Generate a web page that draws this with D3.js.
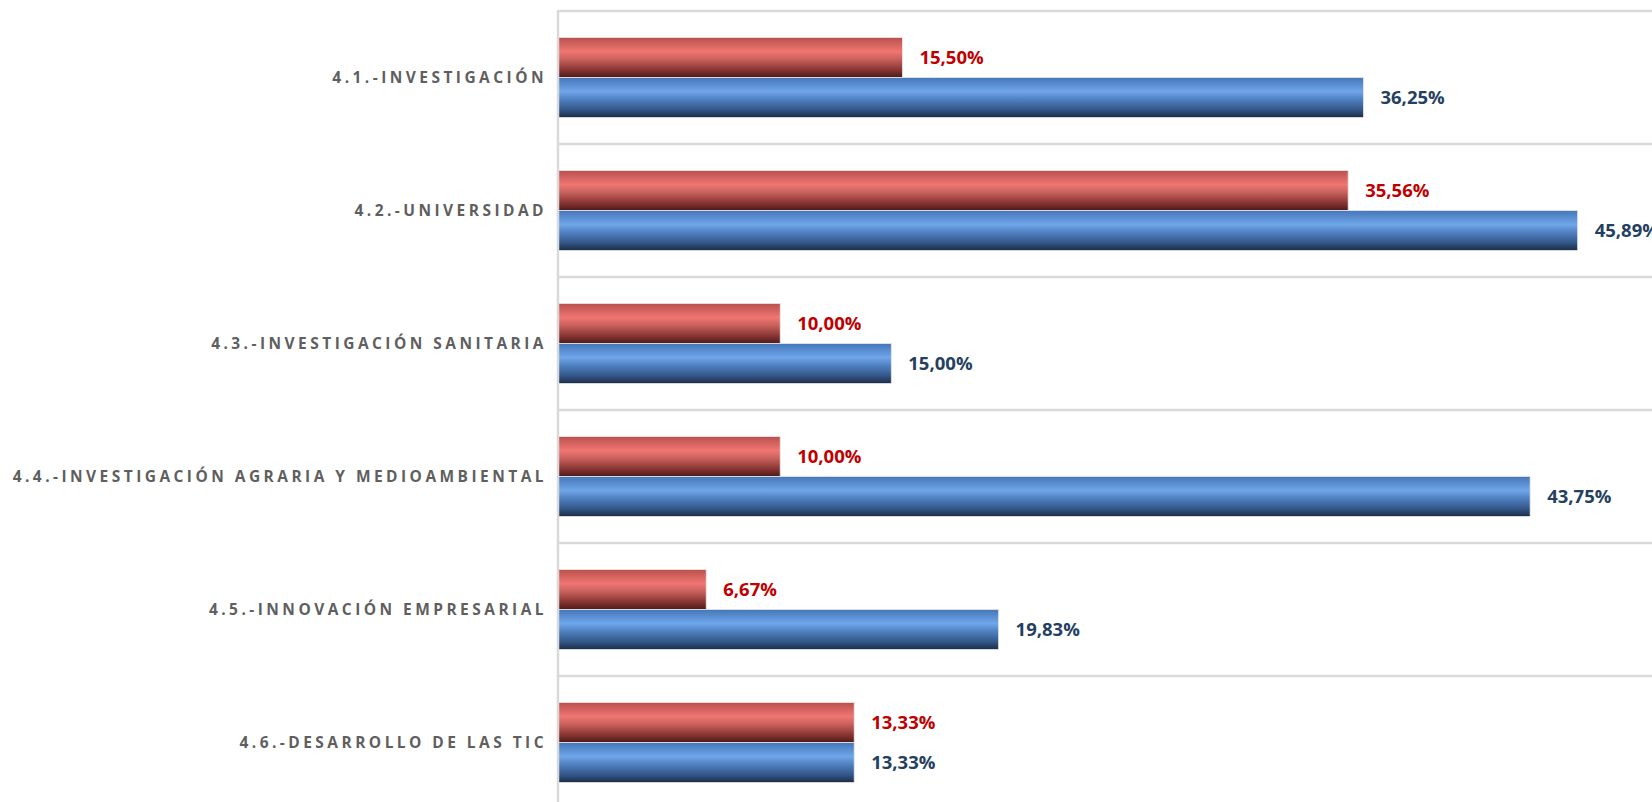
<!DOCTYPE html>
<html>
<head>
<meta charset="utf-8">
<script src="https://cdn.jsdelivr.net/npm/d3@7"></script>
<style>
  body { margin: 0; background: #fff; }
  svg { display: block; }
</style>
</head>
<body>
<svg id="chart" width="1652" height="802"></svg>
<script>
// Data.
var categories = [
  '4.1.-INVESTIGACIÓN',
  '4.2.-UNIVERSIDAD',
  '4.3.-INVESTIGACIÓN SANITARIA',
  '4.4.-INVESTIGACIÓN AGRARIA Y MEDIOAMBIENTAL',
  '4.5.-INNOVACIÓN EMPRESARIAL',
  '4.6.-DESARROLLO DE LAS TIC'
];
var redValues = [15.50, 35.56, 10.00, 10.00, 6.67, 13.33];
var blueValues = [36.25, 45.89, 15.00, 43.75, 19.83, 13.33];
var seriesKeys = ['red', 'blue'];

// Layout.
var PLOT_LEFT = 558;
var PLOT_TOP = 11;
var BAND = 133;
var BAR_H = 40;
var GRID = '#d9d9d9';

var svg = d3.select('#chart');

var x = d3.scaleLinear().domain([0, 50]).range([PLOT_LEFT, PLOT_LEFT + 1111]);
var y = d3.scaleBand().domain(categories)
  .range([PLOT_TOP, PLOT_TOP + BAND * categories.length]);

/**
 * Gradients that give the bars their rounded, shiny look.
 */
var defs = svg.append('defs');
var gradStops = {
  red: [['0%', '#b9504d'], ['35%', '#f07672'], ['55%', '#c8605c'], ['80%', '#8a3634'], ['100%', '#4e1919']],
  blue: [['0%', '#4576b8'], ['35%', '#6fa6ea'], ['55%', '#4f80c0'], ['80%', '#34588a'], ['100%', '#1b2c46']]
};
seriesKeys.forEach(function(k) {
  var g = defs.append('linearGradient')
    .attr('id', 'grad-' + k)
    .attr('x1', 0).attr('y1', 0).attr('x2', 0).attr('y2', 1);
  gradStops[k].forEach(function(s) {
    g.append('stop').attr('offset', s[0]).attr('stop-color', s[1]);
  });
});

// Horizontal gridlines between categories.
var gridYs = categories.map(function(c) { return y(c); });
gridYs.push(y.range()[1]);
svg.selectAll('line.grid')
  .data(gridYs)
  .enter()
  .append('line')
  .attr('class', 'grid')
  .attr('x1', PLOT_LEFT)
  .attr('x2', 1652)
  .attr('y1', function(d) { return d; })
  .attr('y2', function(d) { return d; })
  .attr('stroke', GRID)
  .attr('stroke-width', 2.5);

var rows = categories.map(function(c, i) {
  return {cat: c, red: redValues[i], blue: blueValues[i]};
});

var barData = [];
rows.forEach(function(r) {
  seriesKeys.forEach(function(k, j) {
    barData.push({cat: r.cat, key: k, value: r[k], j: j});
  });
});

var barY = function(d) {
  return y(d.cat) + y.bandwidth() / 2 - BAR_H + d.j * BAR_H;
};

svg.selectAll('rect.bar')
  .data(barData)
  .enter()
  .append('rect')
  .attr('class', 'bar')
  .attr('x', x(0))
  .attr('y', barY)
  .attr('width', function(d) { return x(d.value) - x(0); })
  .attr('height', BAR_H)
  .attr('fill', function(d) { return 'url(#grad-' + d.key + ')'; })
  .attr('stroke', '#e6e6e6')
  .attr('stroke-width', 0.8);

// Vertical axis line.
svg.append('line')
  .attr('x1', PLOT_LEFT).attr('x2', PLOT_LEFT)
  .attr('y1', PLOT_TOP - 1).attr('y2', 802)
  .attr('stroke', GRID)
  .attr('stroke-width', 2.5);

// Value labels.
var fmt = function(v) { return v.toFixed(2).replace('.', ',') + '%'; };
svg.selectAll('text.value')
  .data(barData)
  .enter()
  .append('text')
  .attr('class', 'value')
  .attr('x', function(d) { return x(d.value) + 17; })
  .attr('y', function(d) { return barY(d) + BAR_H / 2; })
  .attr('dy', '0.35em')
  .attr('fill', function(d) { return d.key === 'red' ? '#c00000' : '#243f60'; })
  .attr('font-family', 'Open Sans, sans-serif')
  .attr('font-weight', 'bold')
  .attr('font-size', 18.5)
  .text(function(d) { return fmt(d.value); });

// Category labels.
svg.selectAll('text.cat')
  .data(categories)
  .enter()
  .append('text')
  .attr('class', 'cat')
  .attr('x', 547)
  .attr('y', function(d) { return y(d) + y.bandwidth() / 2; })
  .attr('dy', '0.35em')
  .attr('text-anchor', 'end')
  .attr('fill', '#5f5f5f')
  .attr('font-family', 'Open Sans, sans-serif')
  .attr('font-weight', 'bold')
  .attr('font-size', 15.5)
  .attr('letter-spacing', 3.45)
  .text(function(d) { return d; });
</script>
</body>
</html>
